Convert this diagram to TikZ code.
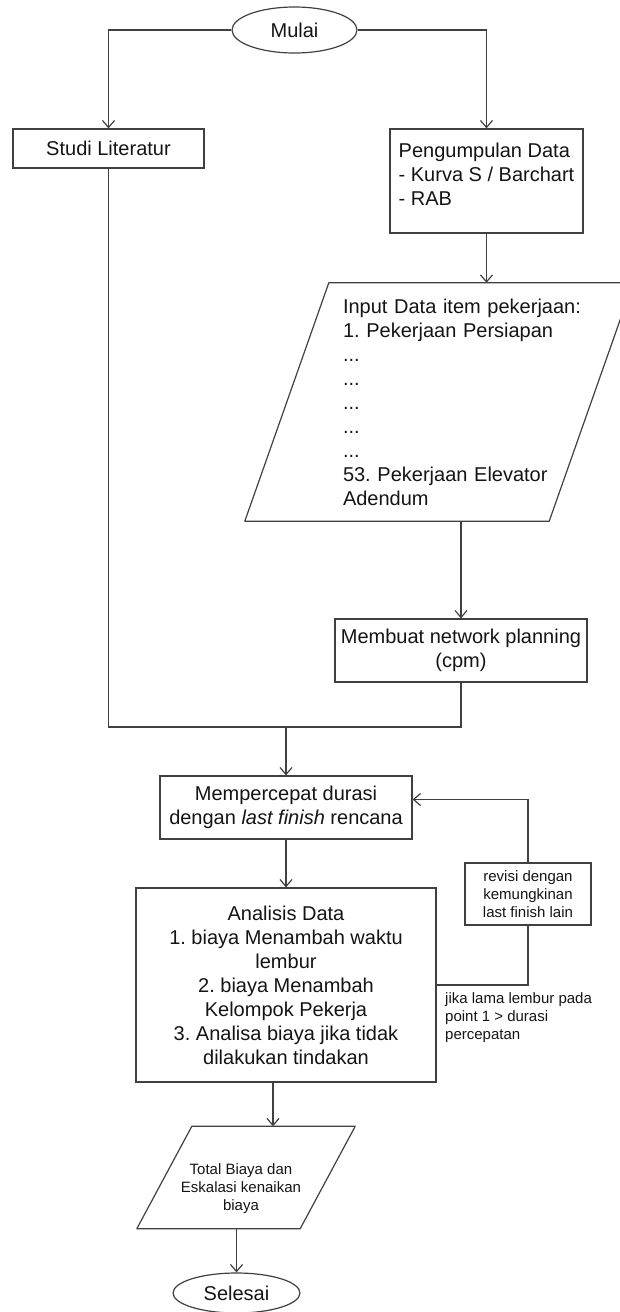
\documentclass[tikz,border=0pt]{standalone}
\usepackage{fontspec}
\setmainfont{Liberation Sans}
\usetikzlibrary{positioning, arrows.meta, shapes.geometric, calc}
\definecolor{FlowLine}{RGB}{64,64,64}
\definecolor{FlowText}{RGB}{20,20,20}
\frenchspacing

\begin{document}
\begin{tikzpicture}[x=1pt, y=-1pt, font=\fontsize{20}{24}\selectfont, text=FlowText]
    \tikzset{
        terminal/.style={ellipse, draw=FlowLine, line width=1.2pt, minimum width=125pt,
            minimum height=46pt, inner sep=0pt},
        procbox/.style={rectangle, draw=FlowLine, line width=1.2pt, align=center,
            inner sep=0pt},
        ioframe/.style={rectangle, inner sep=0pt},
        iotext/.style={inner sep=0pt},
        smalltext/.style={font=\fontsize{15}{18}\selectfont},
        flowline/.style={draw=FlowLine, line width=1.2pt},
        flowarrow/.style={flowline, -{Straight Barb[length=7pt,width=12pt]}}
    }
    \useasboundingbox (0,0) rectangle (620,1312);
    \node[terminal] (mulai) at (294.5,30) {Mulai};
    \node[procbox, minimum width=191pt, minimum height=39pt] (studi) at (108.5,148.5)
        {Studi Literatur};
    \node[procbox, align=left, text depth=14.5pt, minimum width=193pt,
        minimum height=104pt] (data) at (486.5,181)
        {Pengumpulan Data\\- Kurva S / Barchart\\- RAB};
    \node[ioframe, minimum width=388pt, minimum height=238pt] (input) at (439,402) {};
    \draw[flowline, line join=round] ([xshift=84pt]input.north west) -- (input.north east)
        -- ([xshift=-84pt]input.south east) -- (input.south west) -- cycle;
    \node[iotext, align=left, text width=238pt] (inputtext) at (462,402)
        {Input Data item pekerjaan:\\1. Pekerjaan Persiapan\\...\\...\\...\\...\\...\\
         53. Pekerjaan Elevator\\Adendum};
    \node[procbox, minimum width=252pt, minimum height=63pt] (membuat) at (461,650.5)
        {Membuat network planning\\(cpm)};
    \node[procbox, minimum width=252pt, minimum height=63pt] (percepat) at (286,807.5)
        {Mempercepat durasi\\dengan \textit{last finish} rencana};
    \node[procbox, minimum width=300pt, minimum height=194pt] (analisis) at (286,985)
        {Analisis Data\\1. biaya Menambah waktu\\lembur\\2. biaya Menambah\\
         Kelompok Pekerja\\3. Analisa biaya jika tidak\\dilakukan tindakan};
    \node[procbox, smalltext, minimum width=126pt, minimum height=62pt] (revisi) at (528,894)
        {revisi dengan\\kemungkinan\\last finish lain};
    \node[smalltext, anchor=north west, align=left, inner sep=0pt] (syarat) at (445,992)
        {jika lama lembur pada\\point 1 > durasi\\percepatan};
    \node[ioframe, minimum width=218pt, minimum height=102pt] (total) at (246,1177.5) {};
    \draw[flowline, line join=round] ([xshift=55pt]total.north west) -- (total.north east)
        -- ([xshift=-55pt]total.south east) -- (total.south west) -- cycle;
    \node[iotext, smalltext, align=center] (totaltext) at (241,1189)
        {Total Biaya dan\\Eskalasi kenaikan\\biaya};
    \node[terminal, minimum width=127pt, minimum height=40pt] (selesai) at (236.5,1293)
        {Selesai};
    \coordinate (gabung) at (286,727);
    \draw[flowarrow] (mulai.west) -| (studi.north);
    \draw[flowarrow] (mulai.east) -| (data.north);
    \draw[flowarrow] (data.south) -- (data.south |- input.north);
    \draw[flowarrow] (input.south -| membuat.north) -- (membuat.north);
    \draw[flowline] (studi.south) |- (gabung) -| (membuat.south);
    \draw[flowarrow] (gabung) -- (percepat.north);
    \draw[flowarrow] (percepat.south) -- (analisis.north);
    \draw[flowline] (analisis.east) -| (revisi.south);
    \draw[flowarrow] (revisi.north) |- ([yshift=8pt]percepat.east);
    \draw[flowarrow] ([xshift=-13pt]analisis.south) -- ([xshift=-13pt]analisis.south |- total.north);
    \draw[flowarrow] (total.south -| selesai.north) -- (selesai.north);
\end{tikzpicture}
\end{document}
